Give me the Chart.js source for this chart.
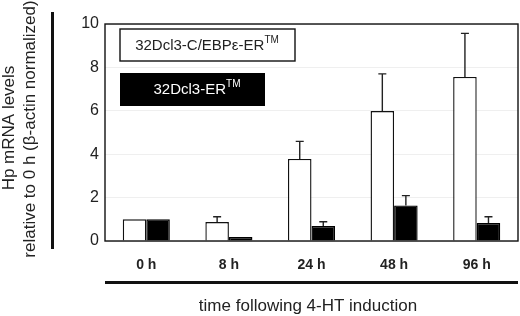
<!DOCTYPE html>
<html>
<head>
<meta charset="utf-8">
<script src="https://cdn.jsdelivr.net/npm/chart.js@4/dist/chart.umd.min.js"></script>
<style>
  html, body { margin: 0; padding: 0; background: #fff; }
  #wrap { width: 520px; height: 316px; }
</style>
</head>
<body>
<div id="wrap"><canvas id="c" width="520" height="316"></canvas></div>
<script>
// --- data ---
const timepoints = ['0 h', '8 h', '24 h', '48 h', '96 h'];
const cebpValues = [1.0, 0.87, 3.78, 5.99, 7.56];
const cebpErrTop = [1.0, 1.12, 4.59, 7.70, 9.57];
const erValues   = [1.0, 0.18, 0.69, 1.64, 0.83];
const erErrTop   = [1.0, 0.18, 0.89, 2.09, 1.12];
const yTicks = [0, 2, 4, 6, 8, 10];

const FONT = "Arial, 'Liberation Sans', sans-serif";

// upward-only error bars with small caps
const errorBars = {
  id: 'errorBars',
  afterDatasetsDraw(chart) {
    const ctx = chart.ctx;
    const y = chart.scales.y;
    const tops = [cebpErrTop, erErrTop];
    ctx.save();
    ctx.strokeStyle = '#222';
    ctx.lineWidth = 1.4;
    chart.data.datasets.forEach((ds, di) => {
      const meta = chart.getDatasetMeta(di);
      meta.data.forEach((bar, i) => {
        const top = tops[di][i];
        if (top <= ds.data[i]) return;
        const x = bar.x;
        const yTop = y.getPixelForValue(top);
        ctx.beginPath();
        ctx.moveTo(x, bar.y);
        ctx.lineTo(x, yTop);
        ctx.moveTo(x - 4, yTop);
        ctx.lineTo(x + 4, yTop);
        ctx.stroke();
      });
    });
    ctx.restore();
  }
};

// frame, decorative rules, titles and boxed legend
const decor = {
  id: 'decor',
  afterDraw(chart) {
    const ctx = chart.ctx;
    const a = chart.chartArea;
    ctx.save();
    // plot frame
    ctx.strokeStyle = '#111';
    ctx.lineWidth = 1.4;
    ctx.strokeRect(a.left, a.top, a.right - a.left, a.bottom - a.top);

    // thick rule under category labels
    ctx.fillStyle = '#111';
    ctx.fillRect(a.left, 281, a.right - a.left, 3);
    // thick vertical rule beside y title
    ctx.fillRect(51, 12, 3, 237);

    // x title
    ctx.font = '17px ' + FONT;
    ctx.textAlign = 'center';
    ctx.textBaseline = 'middle';
    ctx.fillStyle = '#222';
    ctx.fillText('time following 4-HT induction', 308, 306);

    // y title (two lines rotated)
    ctx.save();
    ctx.translate(9, 128);
    ctx.rotate(-Math.PI / 2);
    ctx.fillText('Hp mRNA levels', 0, 0);
    ctx.restore();
    ctx.save();
    ctx.translate(30, 129);
    ctx.rotate(-Math.PI / 2);
    ctx.fillText('relative to 0 h (\u03b2-actin normalized)', 0, 0);
    ctx.restore();

    // legend boxes
    function labelTM(text, cx, cy, color) {
      ctx.fillStyle = color;
      ctx.font = '15px ' + FONT;
      const w1 = ctx.measureText(text).width;
      ctx.font = '10px ' + FONT;
      const w2 = ctx.measureText('TM').width;
      const x0 = cx - (w1 + w2) / 2;
      ctx.textAlign = 'left';
      ctx.textBaseline = 'middle';
      ctx.font = '15px ' + FONT;
      ctx.fillText(text, x0, cy);
      ctx.font = '10px ' + FONT;
      ctx.fillText('TM', x0 + w1, cy - 6);
    }
    ctx.lineWidth = 1.4;
    ctx.fillStyle = '#fff';
    ctx.fillRect(120, 29, 175, 32);
    ctx.strokeStyle = '#111';
    ctx.strokeRect(120, 29, 175, 32);
    labelTM('32Dcl3-C/EBP\u03b5-ER', 207, 46, '#222');

    ctx.fillStyle = '#000';
    ctx.fillRect(120, 73, 145, 33);
    labelTM('32Dcl3-ER', 197, 90, '#fff');
    ctx.restore();
  }
};

new Chart(document.getElementById('c'), {
  type: 'bar',
  data: {
    labels: timepoints,
    datasets: [
      {
        label: '32Dcl3-C/EBP\u03b5-ER\u2122',
        data: cebpValues,
        backgroundColor: '#fff',
        borderColor: '#111',
        borderWidth: 1.4,
        categoryPercentage: 0.57,
        barPercentage: 1.0
      },
      {
        label: '32Dcl3-ER\u2122',
        data: erValues,
        backgroundColor: '#000',
        borderColor: '#000',
        borderWidth: 1.4,
        categoryPercentage: 0.57,
        barPercentage: 1.0
      }
    ]
  },
  options: {
    responsive: false,
    animation: false,
    devicePixelRatio: 1,
    layout: { padding: { top: 24, right: 2, left: 0, bottom: 0 } },
    plugins: { legend: { display: false }, tooltip: { enabled: false } },
    scales: {
      x: {
        afterFit(scale) { scale.height = 75; },
        grid: { display: false },
        border: { display: false },
        ticks: { font: { family: FONT, size: 14, weight: 'bold' }, color: '#222', padding: 8 }
      },
      y: {
        min: 0,
        max: 10,
        afterFit(scale) { scale.width = 105; },
        afterBuildTicks(scale) { scale.ticks = yTicks.map(v => ({ value: v })); },
        grid: { color: '#efefef', drawTicks: false },
        border: { display: false },
        ticks: { font: { family: FONT, size: 16 }, color: '#222', padding: 6 }
      }
    }
  },
  plugins: [errorBars, decor]
});
</script>
</body>
</html>
